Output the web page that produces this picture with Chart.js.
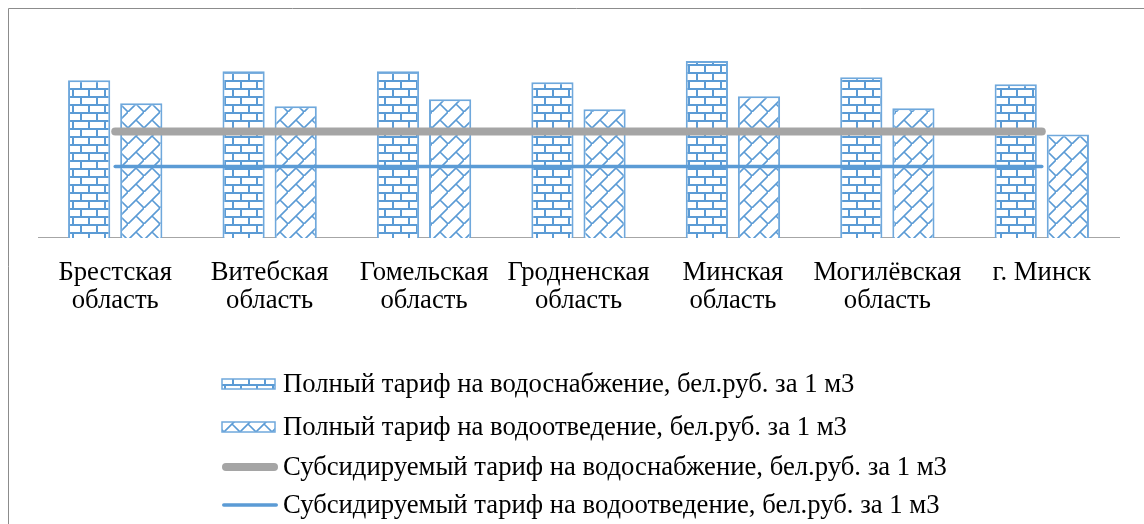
<!DOCTYPE html>
<html>
<head>
<meta charset="utf-8">
<script src="https://cdn.jsdelivr.net/npm/chart.js@4.4.0/dist/chart.umd.min.js"></script>
<style>
body { margin: 0; background: #fff; }
</style>
</head>
<body>
<canvas id="myChart" width="1144" height="524"></canvas>
<script>
// data (bel.rub. per m3)
const regions = [
	['Брестская', 'область'],
	['Витебская', 'область'],
	['Гомельская', 'область'],
	['Гродненская', 'область'],
	['Минская', 'область'],
	['Могилёвская', 'область'],
	'г. Минск'
];
const fullSupply = [1.57, 1.66, 1.66, 1.55, 1.76, 1.60, 1.53];
const fullSewage = [1.34, 1.31, 1.38, 1.28, 1.41, 1.29, 1.03];
const subsidSupply = [1.06, 1.06, 1.06, 1.06, 1.06, 1.06, 1.06];
const subsidSewage = [0.71, 0.71, 0.71, 0.71, 0.71, 0.71, 0.71];
const seriesNames = [
	'Полный тариф на водоснабжение, бел.руб. за 1 м3',
	'Полный тариф на водоотведение, бел.руб. за 1 м3',
	'Субсидируемый тариф на водоснабжение, бел.руб. за 1 м3',
	'Субсидируемый тариф на водоотведение, бел.руб. за 1 м3'
];

const blue = '#5b9bd5';
const gray = '#a5a5a5';
const fontFamily = '"Liberation Serif", "Times New Roman", serif';
const fontSize = 26.7;

function brickPattern() {
	const c = document.createElement('canvas');
	c.width = 16;
	c.height = 16;
	const g = c.getContext('2d');
	g.fillStyle = '#fff';
	g.fillRect(0, 0, 16, 16);
	g.strokeStyle = blue;
	g.lineWidth = 2;
	g.beginPath();
	g.moveTo(0, 1); g.lineTo(16, 1);
	g.moveTo(0, 9); g.lineTo(16, 9);
	g.moveTo(1, 1); g.lineTo(1, 9);
	g.moveTo(9, 9); g.lineTo(9, 17);
	g.stroke();
	return g.createPattern(c, 'repeat');
}

function diagBrickPattern() {
	const c = document.createElement('canvas');
	c.width = 16;
	c.height = 16;
	const g = c.getContext('2d');
	g.fillStyle = '#fff';
	g.fillRect(0, 0, 16, 16);
	g.strokeStyle = blue;
	g.lineWidth = 1.6;
	g.beginPath();
	g.moveTo(-2, 18); g.lineTo(18, -2);
	g.moveTo(8, 8); g.lineTo(17, 17);
	g.stroke();
	return g.createPattern(c, 'repeat');
}

// frame and the legend block under the plot
const extras = {
	id: 'extras',
	beforeDraw(chart) {
		const ctx = chart.ctx;
		ctx.save();
		ctx.strokeStyle = '#8c8c8c';
		ctx.lineWidth = 1;
		ctx.beginPath();
		ctx.moveTo(8.5, 600);
		ctx.lineTo(8.5, 8.5);
		ctx.lineTo(1200, 8.5);
		ctx.stroke();
		ctx.restore();
	},
	afterDraw(chart) {
		const ctx = chart.ctx;
		const rows = [384, 427, 467, 505];
		ctx.save();
		ctx.font = fontSize + 'px ' + fontFamily;
		ctx.fillStyle = '#000';
		ctx.textBaseline = 'middle';
		for (let i = 0; i < 4; i++) {
			const ds = chart.data.datasets[i];
			const y = rows[i];
			if (ds.type === 'line') {
				ctx.strokeStyle = ds.borderColor;
				ctx.lineWidth = ds.borderWidth;
				ctx.lineCap = 'round';
				ctx.beginPath();
				ctx.moveTo(222 + ds.borderWidth / 2, y);
				ctx.lineTo(278 - ds.borderWidth / 2, y);
				ctx.stroke();
			} else {
				ctx.fillStyle = ds.backgroundColor;
				ctx.fillRect(222, y - 5, 53, 10);
				ctx.strokeStyle = ds.borderColor;
				ctx.lineWidth = 1.5;
				ctx.strokeRect(222, y - 5, 53, 10);
			}
			ctx.fillStyle = '#000';
			ctx.fillText(ds.label, 283, y + 1);
		}
		ctx.restore();
	}
};

const ctx = document.getElementById('myChart').getContext('2d');
const myChart = new Chart(ctx, {
	type: 'bar',
	data: {
		labels: regions,
		datasets: [
			{
				label: seriesNames[0],
				data: fullSupply,
				backgroundColor: brickPattern(),
				borderColor: '#6fa8dc',
				borderWidth: 2,
				order: 1
			},
			{
				label: seriesNames[1],
				data: fullSewage,
				backgroundColor: diagBrickPattern(),
				borderColor: '#6fa8dc',
				borderWidth: 2,
				order: 1
			},
			{
				type: 'line',
				label: seriesNames[2],
				data: subsidSupply,
				borderColor: gray,
				borderWidth: 8,
				borderCapStyle: 'round',
				pointRadius: 0,
				fill: false,
				order: 0
			},
			{
				type: 'line',
				label: seriesNames[3],
				data: subsidSewage,
				borderColor: blue,
				borderWidth: 3.5,
				borderCapStyle: 'round',
				pointRadius: 0,
				fill: false,
				order: 0
			}
		]
	},
	options: {
		responsive: false,
		animation: false,
		events: [],
		categoryPercentage: 0.675,
		barPercentage: 0.81,
		layout: {
			padding: { left: 38, right: 25, top: 37, bottom: 196 }
		},
		plugins: {
			legend: { display: false },
			tooltip: { enabled: false }
		},
		scales: {
			x: {
				grid: { display: false },
				border: { display: true, color: '#a6a6a6', width: 1 },
				ticks: {
					color: '#000',
					padding: 13,
					maxRotation: 0,
					autoSkip: false,
					font: { family: fontFamily, size: fontSize, lineHeight: 1.05 }
				}
			},
			y: {
				display: false,
				min: 0,
				max: 2
			}
		}
	},
	plugins: [extras]
});
</script>
</body>
</html>
